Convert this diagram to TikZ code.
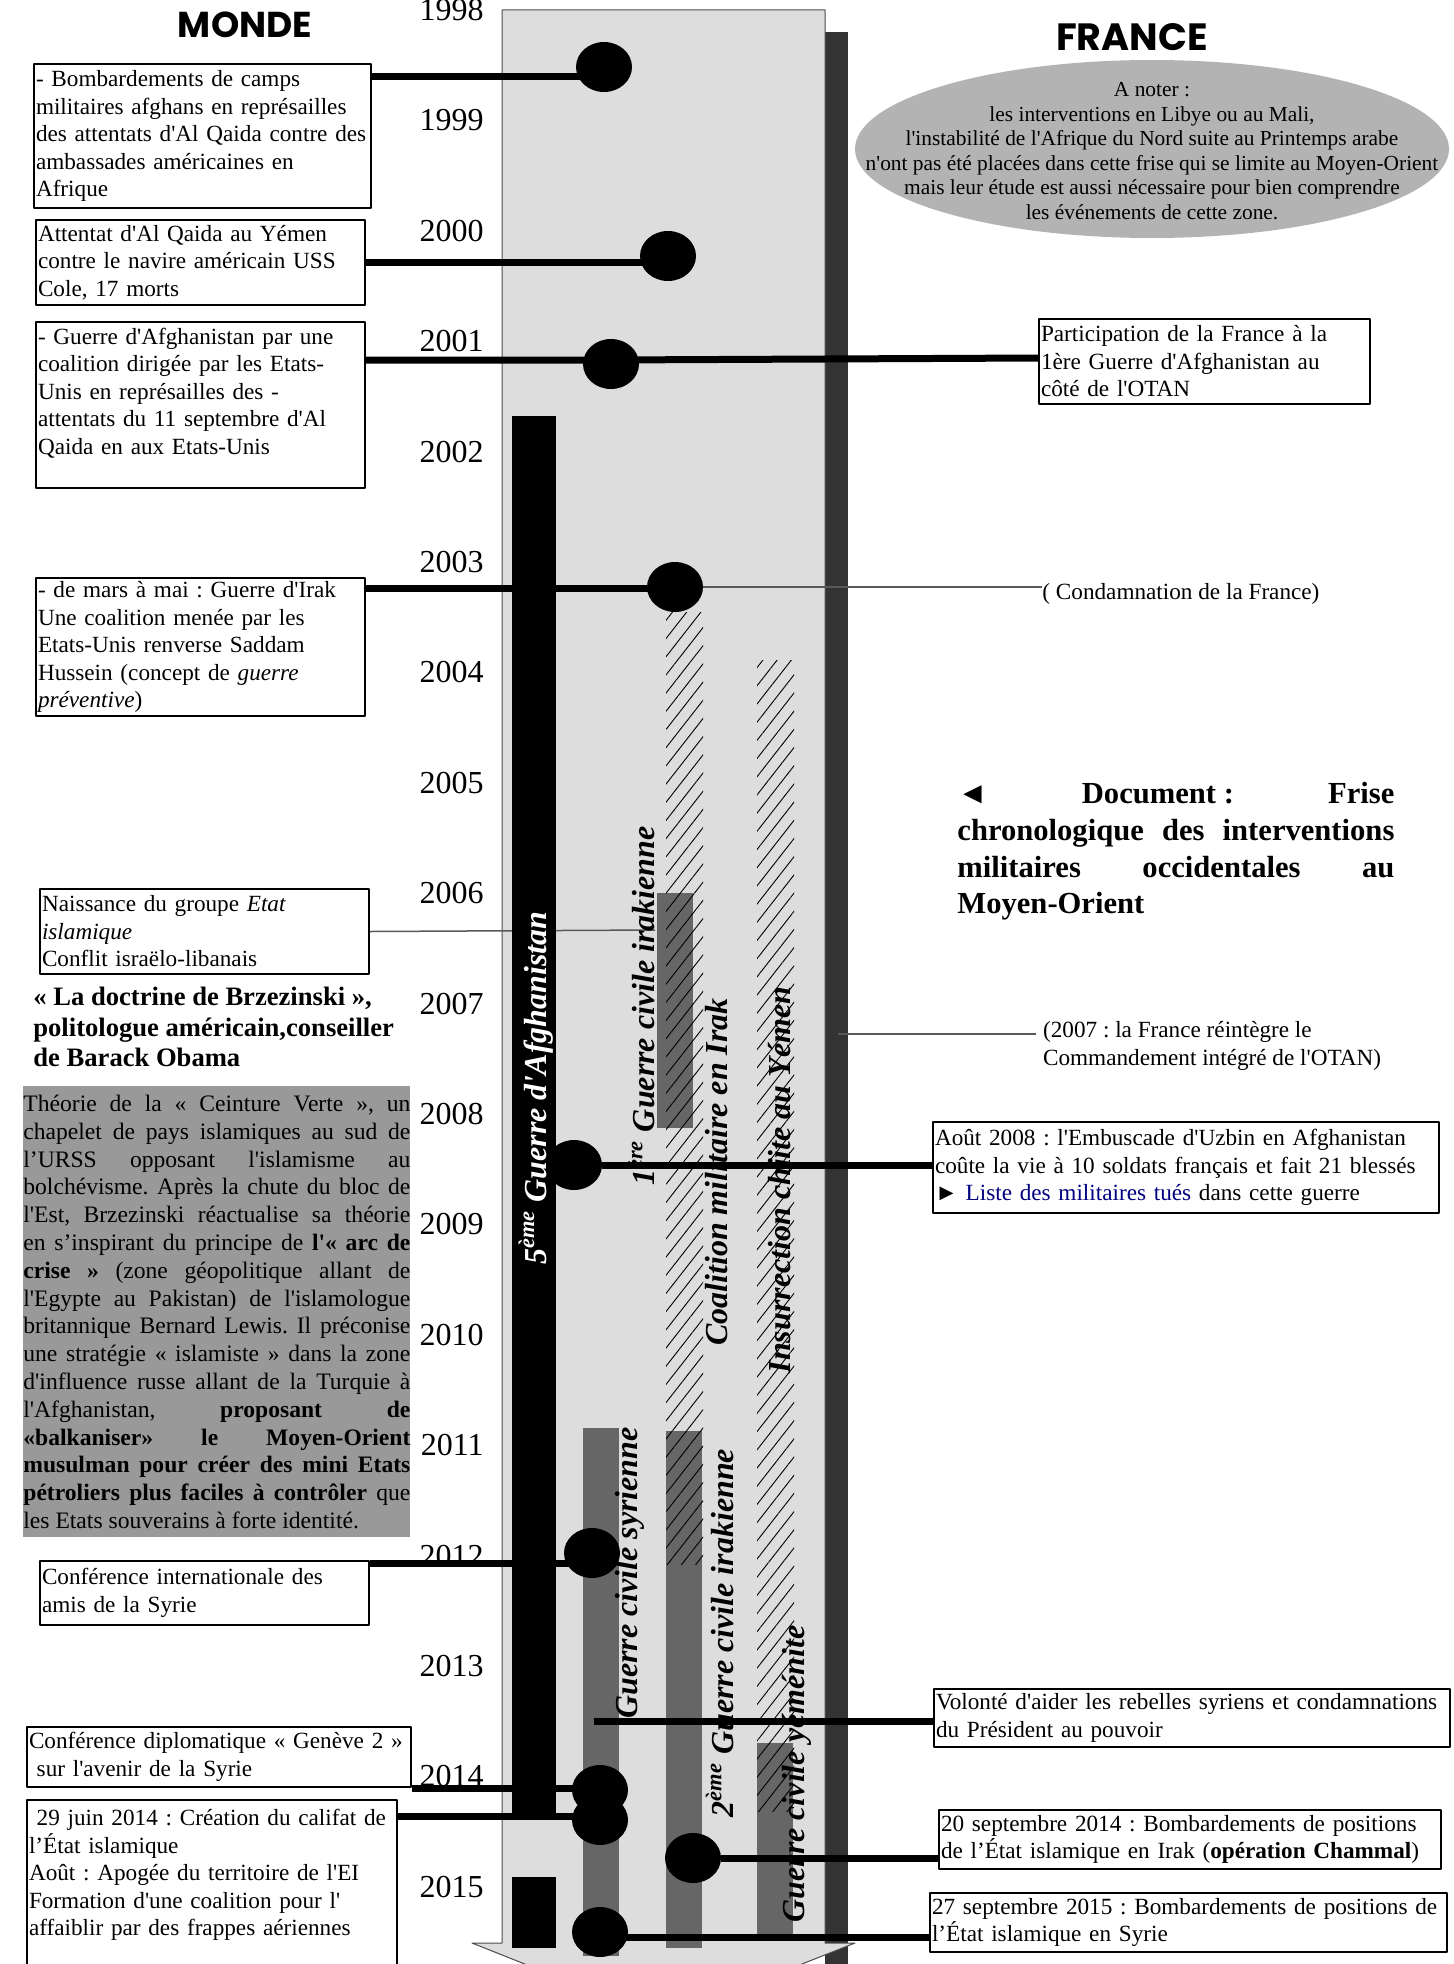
\documentclass[tikz,border=0pt]{standalone}
\usepackage{fontspec}
\setmainfont{Liberation Serif}[Ligatures=TeXOff]
\newfontfamily\titrefont{Poppins}
\usepackage{tikz}
\usetikzlibrary{positioning}
\usetikzlibrary{shapes.geometric}
\usetikzlibrary{patterns.meta}
\definecolor{bande}{HTML}{DDDDDD}
\definecolor{ombre}{HTML}{333333}
\definecolor{barre}{HTML}{666666}
\definecolor{encadre}{HTML}{999999}
\definecolor{bulle}{HTML}{B3B3B3}
\definecolor{lienbleu}{rgb}{0,0,0.5}
\frenchspacing
\hyphenpenalty=10000
\newcommand\corps{\fontsize{11.6}{13.75}\selectfont}
\tikzset{
	evt/.style={draw, line width=1pt, fill=white, anchor=north west, align=left, inner xsep=1pt, inner ysep=1.5pt, font=\corps},
	annee/.style={anchor=east, inner sep=0pt, font=\fontsize{16}{18}\selectfont},
	lien/.style={line width=3.5pt},
	fil/.style={line width=0.75pt, draw=black!65},
	pastille/.style={ellipse, fill=black, minimum width=28pt, minimum height=25pt, inner sep=0pt},
	hachure/.style={pattern={Lines[angle=52,distance=5.6pt,line width=0.45pt]}},
	titre/.style={rotate=90, inner sep=0pt, font=\bfseries\itshape\fontsize{16}{18}\selectfont}
}

\begin{document}
\begin{tikzpicture}[x=0.5pt,y=-0.5pt,line join=round]
						\useasboundingbox (0,0) rectangle (1453,1964);
						\clip (0,0) rectangle (1453,1964);
						\fill[ombre] (825,32) rectangle (848,1964);
						\filldraw[fill=bande,draw=black!70,line width=0.5pt] (502,10) -- (825,10) -- (825,1943) -- (855,1943) -- (663,2019) -- (472,1943) -- (502,1943) -- cycle;
						\foreach \an [count=\i from 0] in {1998,...,2015}
						\node[annee] (an\an) at (484,{10+110.4*\i}) {\an};
						\node[font=\titrefont\bfseries\fontsize{18}{20}\selectfont] (monde) at (245,25) {MONDE};
						\node[font=\titrefont\bfseries\fontsize{19}{21}\selectfont] (france) at (1132,37) {FRANCE};
						\fill[bulle] (1152,149) ellipse [x radius=297, y radius=89];
						\node[align=center, inner sep=0pt, font=\fontsize{10.7}{12.25}\selectfont] (noter) at (1152,151) {A noter :\\les interventions en Libye ou au Mali,\\l'instabilité de l'Afrique du Nord suite au Printemps arabe\\n'ont pas été placées dans cette frise qui se limite au Moyen-Orient\\mais leur étude est aussi nécessaire pour bien comprendre\\les événements de cette zone.};
						\node[evt, text width=166.5pt, minimum height=72pt] (b1) at (33,63) {- Bombardements de camps\\militaires afghans en représailles\\des attentats d'Al Qaida contre des\\ambassades américaines en\\Afrique};
						\node[evt, text width=162.5pt, minimum height=42.5pt] (b2) at (35,219) {Attentat d'Al Qaida au Yémen\\contre le navire américain USS\\Cole, 17 morts};
						\node[evt, text width=162.5pt, minimum height=83pt] (b3) at (35,321) {- Guerre d'Afghanistan par une\\coalition dirigée par les Etats-\\Unis en représailles des -\\attentats du 11 septembre d'Al\\Qaida en aux Etats-Unis\\\mbox{}};
						\node[evt, text width=162.5pt, minimum height=69pt] (b4) at (35,577) {- de mars à mai : Guerre d'Irak\\Une coalition menée par les\\Etats-Unis renverse Saddam\\Hussein (concept de \textit{guerre}\\\textit{préventive})};
						\node[evt, text width=162.5pt, minimum height=42.5pt] (b5) at (39,888) {Naissance du groupe \textit{Etat}\\\textit{islamique}\\Conflit israëlo-libanais};
						\node[anchor=north west, align=left, inner sep=0pt, font=\bfseries\fontsize{13.3}{15.25}\selectfont] (doctrine) at (33,987) {« La doctrine de Brzezinski »,\\politologue américain,conseiller\\de Barack Obama};
						\node[anchor=north west, fill=encadre, inner sep=0pt, text width=193.5pt, minimum height=225.5pt, align=justify, font=\fontsize{11.8}{13.9}\selectfont] (ceinture) at (23,1086) {Théorie de la « Ceinture Verte », un\linebreak chapelet de pays islamiques au sud de\linebreak l’URSS opposant l'islamisme au\linebreak bolchévisme. Après la chute du bloc de\linebreak l'Est, Brzezinski réactualise sa théorie\linebreak en s’inspirant du principe de \textbf{l'« arc de\linebreak crise »} (zone géopolitique allant de\linebreak l'Egypte au Pakistan) de l'islamologue\linebreak britannique Bernard Lewis. Il préconise\linebreak une stratégie « islamiste » dans la zone\linebreak d'influence russe allant de la Turquie à\linebreak l'Afghanistan, \textbf{proposant de\linebreak «balkaniser» le Moyen-Orient\linebreak musulman pour créer des mini Etats\linebreak pétroliers plus faciles à contrôler} que\linebreak les Etats souverains à forte identité.};
						\node[evt, text width=162.5pt, minimum height=32pt] (b6) at (39,1560) {Conférence internationale des\\amis de la Syrie};
						\node[evt, text width=190pt, minimum height=30pt] (b7) at (26,1726) {Conférence diplomatique « Genève 2 »\\\ sur l'avenir de la Syrie};
						\node[evt, text width=183pt, minimum height=100pt] (b8) at (26,1799) {\ 29 juin 2014 : Création du califat de\\l’État islamique\\Août : Apogée du territoire de l'EI\\Formation d'une coalition pour l'\\affaiblir par des frappes aériennes\\\mbox{}\\\mbox{}};
						\node[evt, text width=163.5pt, minimum height=42.5pt] (f1) at (1038,318) {Participation de la France à la\\1ère Guerre d'Afghanistan au\\côté de l'OTAN};
						\node[anchor=west, inner sep=0pt, font=\corps] (cond) at (1042,594) {( Condamnation de la France)};
						\node[anchor=north west, inner sep=0pt, text width=218.5pt, align=justify, font=\bfseries\fontsize{15.3}{18.35}\selectfont] (doc) at (957,782) {◄ \mbox{Document :} Frise\linebreak chronologique des interventions\linebreak militaires occidentales au\linebreak Moyen-Orient};
						\node[anchor=west, align=left, font=\corps] (f2) at (1036,1046) {(2007 : la France réintègre le\\Commandement intégré de l'OTAN)};
						\node[evt, text width=251pt, minimum height=45.5pt] (f3) at (932,1121) {Août 2008 : l'Embuscade d'Uzbin en Afghanistan\\coûte la vie à 10 soldats français et fait 21 blessés\\► \textcolor{lienbleu}{Liste des militaires tués} dans cette guerre};
						\node[evt, text width=256pt, minimum height=29pt] (f4) at (933,1688) {Volonté d'aider les rebelles syriens et condamnations\\du Président au pouvoir};
						\node[evt, text width=249pt, minimum height=29.5pt] (f5) at (938,1809) {20 septembre 2014 : Bombardements de positions\\de l’État islamique en Irak (\textbf{opération Chammal})};
						\node[evt, text width=256.5pt, minimum height=29.5pt] (f6) at (929,1892) {27 septembre 2015 : Bombardements de positions de\\l’État islamique en Syrie};
						\coordinate (e5) at (655,930);
						\coordinate (e2) at (838,1034);
						\coordinate (s4) at (594,1721);
						\draw[fil] (b5.east) -- (e5);
						\fill[barre] (657,893) rectangle (693,1128);
						\fill[barre] (583,1428) rectangle (619,1956);
						\fill[barre] (666,1431) rectangle (702,1948);
						\fill[barre] (757,1743) rectangle (793,1934);
						\fill[black] (512,416) rectangle (556,1814);
						\fill[black] (512,1877) rectangle (556,1948);
						\path[hachure] (666,612) rectangle (703,1564);
						\path[hachure] (757,660) rectangle (794,1811);
						\node[titre, text=white] (afgh) at (536,1088) {5\textsuperscript{ème} Guerre d'Afghanistan};
						\node[titre] (irak1) at (641,1006) {1\textsuperscript{ère} Guerre civile irakienne};
						\node[titre] (coal) at (717,1172) {Coalition militaire en Irak};
						\node[titre] (yem1) at (780,1180) {Insurrection chiite au Yémen};
						\node[titre] (syr) at (630,1573) {Guerre civile syrienne};
						\node[titre] (irak2) at (720,1633) {2\textsuperscript{ème} Guerre civile irakienne};
						\node[titre] (yem2) at (797,1774) {Guerre civile yéménite};
						\node[pastille] (c1) at (604,67) {};
						\node[pastille] (c2) at (668,256) {};
						\node[pastille] (c3) at (611,364) {};
						\node[pastille] (c4) at (675,587) {};
						\node[pastille] (c5) at (574,1165) {};
						\node[pastille] (c6) at (592,1553) {};
						\node[pastille] (c7) at (600,1790) {};
						\node[pastille] (c8) at (600,1820) {};
						\node[pastille] (c9) at (693,1858) {};
						\node[pastille] (c10) at (600,1932) {};
						\draw[fil] (c4.east) -- (c4.east -| cond.west);
						\draw[fil] (e2) -- (e2 -| f2.west);
						\draw[lien] ([yshift=-7pt]b1.north east) coordinate (t1) -- (t1 -| c1);
						\draw[lien] ([yshift=-21.5pt]b2.north east) coordinate (t2) -- (t2 -| c2);
						\draw[lien] ([yshift=-19.5pt]b3.north east) coordinate (t3) -- (t3 -| c3) -- ([yshift=-20pt]f1.north west);
						\draw[lien] ([yshift=-5.5pt]b4.north east) coordinate (t4) -- (t4 -| c4);
						\draw[lien] (c5) -- (c5 -| f3.west);
						\draw[lien] ([yshift=-1.5pt]b6.north east) coordinate (t6) -- (t6 -| c6);
						\draw[lien] (s4) -- (s4 -| f4.west);
						\draw[lien] (b7.south east) coordinate (t7) -- (t7 -| c7);
						\draw[lien] ([yshift=-8.5pt]b8.north east) coordinate (t8) -- (t8 -| c8);
						\draw[lien] (c9) -- (c9 -| f5.west);
						\draw[lien] ([yshift=-2.5pt]c10.center) coordinate (t10) -- (t10 -| f6.west);
					\end{tikzpicture}
\end{document}
